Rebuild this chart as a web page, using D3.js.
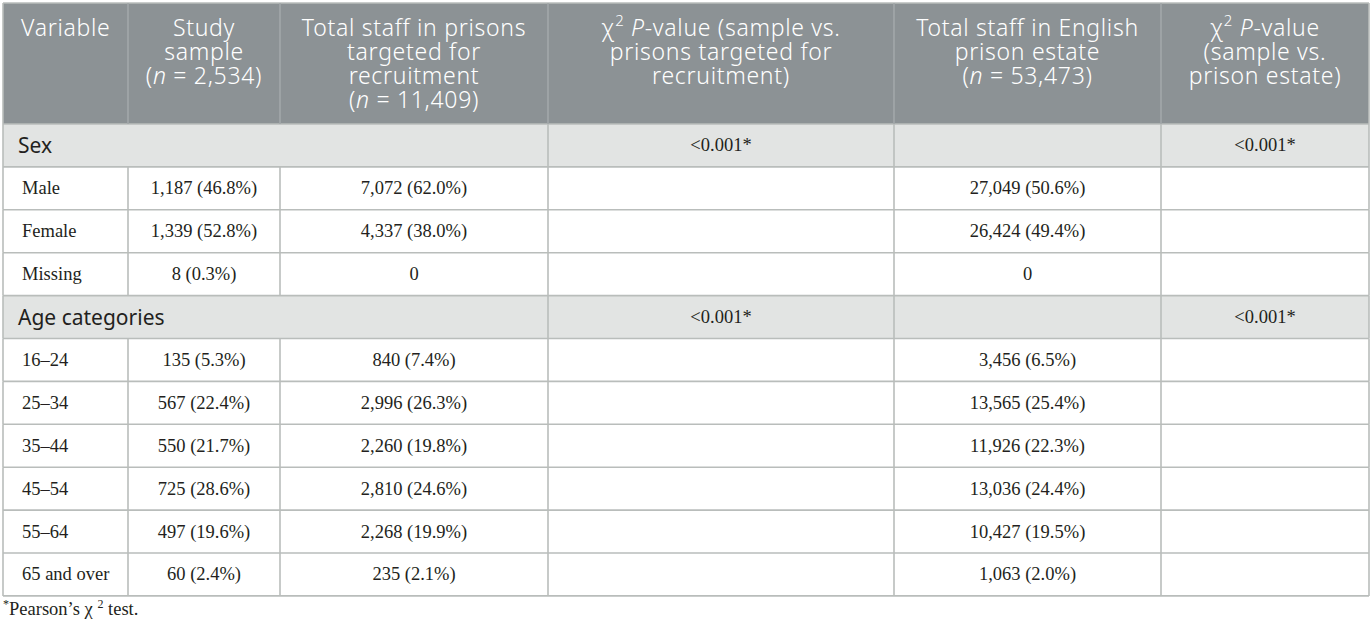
<!DOCTYPE html>
<html>
<head>
<meta charset="utf-8">
<script src="https://cdn.jsdelivr.net/npm/d3@7"></script>
<style>
  html, body { margin: 0; padding: 0; background: #fff; }
  svg { display: block; }
</style>
</head>
<body>
<svg id="table" width="1372" height="629"></svg>
<script>
// column headers, one string per line; <i> and <sup> are honoured
const headers = [
  ["Variable"],
  ["Study", "sample", "(<i>n</i> = 2,534)"],
  ["Total staff in prisons", "targeted for", "recruitment", "(<i>n</i> = 11,409)"],
  ["χ<sup>2</sup> <i>P</i>-value (sample vs.", "prisons targeted for", "recruitment)"],
  ["Total staff in English", "prison estate", "(<i>n</i> = 53,473)"],
  ["χ<sup>2</sup> <i>P</i>-value", "(sample vs.", "prison estate)"]
];

const sections = ["Sex", "Age categories"];
const sectionPTargeted = ["<0.001*", "<0.001*"];
const sectionPEstate = ["<0.001*", "<0.001*"];

const sexLabels = ["Male", "Female", "Missing"];
const sexSampleN = [1187, 1339, 8];
const sexSamplePct = [46.8, 52.8, 0.3];
const sexTargetedN = [7072, 4337, 0];
const sexTargetedPct = [62.0, 38.0, null];
const sexEstateN = [27049, 26424, 0];
const sexEstatePct = [50.6, 49.4, null];

const ageLabels = ["16–24", "25–34", "35–44", "45–54", "55–64", "65 and over"];
const ageSampleN = [135, 567, 550, 725, 497, 60];
const ageSamplePct = [5.3, 22.4, 21.7, 28.6, 19.6, 2.4];
const ageTargetedN = [840, 2996, 2260, 2810, 2268, 235];
const ageTargetedPct = [7.4, 26.3, 19.8, 24.6, 19.9, 2.1];
const ageEstateN = [3456, 13565, 11926, 13036, 10427, 1063];
const ageEstatePct = [6.5, 25.4, 22.3, 24.4, 19.5, 2.0];

const footnote = "<sup>*</sup>Pearson’s χ <sup>2</sup> test.";

// ---- layout
const colEdges = [3, 128, 280, 548, 894, 1161, 1369];
const tableTop = 3, headH = 121, rowH = 42.9;
const serif = "'Liberation Serif', 'Times New Roman', serif";
const sans = "'Noto Sans', 'Open Sans', sans-serif";
const borderCol = "#b9bdbb";

const fmtN = d3.format(",");
const fmtPct = d3.format(".1f");
const cellText = (n, p) => p == null ? fmtN(n) : `${fmtN(n)} (${fmtPct(p)}%)`;

// flatten into table rows
const rows = [];
function addGroup(si, labels, sN, sP, tN, tP, eN, eP) {
  rows.push({ type: "section", label: sections[si], p1: sectionPTargeted[si], p2: sectionPEstate[si] });
  labels.forEach((l, i) => rows.push({
    type: "data",
    cells: [l, cellText(sN[i], sP[i]), cellText(tN[i], tP[i]), "", cellText(eN[i], eP[i]), ""]
  }));
}
addGroup(0, sexLabels, sexSampleN, sexSamplePct, sexTargetedN, sexTargetedPct, sexEstateN, sexEstatePct);
addGroup(1, ageLabels, ageSampleN, ageSamplePct, ageTargetedN, ageTargetedPct, ageEstateN, ageEstatePct);

const y = d3.scaleBand()
  .domain(d3.range(rows.length))
  .range([tableTop + headH, tableTop + headH + rowH * rows.length])
  .paddingInner(0).paddingOuter(0);
const bottom = tableTop + headH + rowH * rows.length;

const svg = d3.select("svg#table");

// write a markup string into a text element as tspans
function richText(sel, str) {
  const parts = str.split(/(<i>.*?<\/i>|<sup>.*?<\/sup>)/).filter(s => s.length);
  parts.forEach(p => {
    if (p.startsWith("<i>")) {
      sel.append("tspan").attr("font-style", "italic").text(p.slice(3, -4));
    } else if (p.startsWith("<sup>")) {
      sel.append("tspan").attr("font-size", "0.65em").attr("baseline-shift", "super").text(p.slice(5, -6));
    } else {
      sel.append("tspan").text(p);
    }
  });
}

// header background
svg.append("rect")
   .attr("x", colEdges[0]).attr("y", tableTop)
   .attr("width", colEdges[6] - colEdges[0]).attr("height", headH)
   .attr("fill", "#8c9295");

// section row backgrounds
rows.forEach((r, i) => {
  if (r.type !== "section") return;
  svg.append("rect")
     .attr("x", colEdges[0]).attr("y", y(i))
     .attr("width", colEdges[6] - colEdges[0]).attr("height", y.bandwidth())
     .attr("fill", "#e2e4e3");
});

// horizontal lines
const gLines = svg.append("g").attr("stroke", borderCol).attr("stroke-width", 1.6);
gLines.selectAll(".hline")
      .data(d3.range(rows.length + 1))
      .enter().append("line")
              .attr("x1", colEdges[0]).attr("x2", colEdges[6])
              .attr("y1", i => i === rows.length ? bottom : y(i))
              .attr("y2", i => i === rows.length ? bottom : y(i));
gLines.append("line")
      .attr("x1", colEdges[0]).attr("x2", colEdges[6])
      .attr("y1", tableTop).attr("y2", tableTop);

// vertical lines: header full height, body split around merged section cells
colEdges.forEach((x, c) => {
  gLines.append("line")
        .attr("x1", x).attr("x2", x)
        .attr("y1", tableTop).attr("y2", tableTop + headH)
        .attr("stroke", c === 0 || c === 6 ? borderCol : "#a3a8aa");
  rows.forEach((r, i) => {
    if (r.type === "section" && (c === 1 || c === 2)) return;
    gLines.append("line")
          .attr("x1", x).attr("x2", x)
          .attr("y1", y(i)).attr("y2", y(i) + y.bandwidth());
  });
});

// header text
const gHead = svg.append("g")
                 .attr("font-family", sans)
                 .attr("font-weight", 300)
                 .attr("font-size", 23)
                 .attr("letter-spacing", 0.7)
                 .attr("fill", "#ffffff");
headers.forEach((lines, c) => {
  const cx = c === 0 ? colEdges[0] + 18 : (colEdges[c] + colEdges[c + 1]) / 2;
  lines.forEach((ln, k) => {
    const t = gHead.append("text")
                   .attr("x", cx)
                   .attr("y", tableTop + 33 + k * 24)
                   .attr("text-anchor", c === 0 ? "start" : "middle");
    richText(t, ln);
  });
});

// body text
const gBody = svg.append("g").attr("fill", "#231f20");
rows.forEach((r, i) => {
  const cy = y(i) + y.bandwidth() / 2;
  if (r.type === "section") {
    gBody.append("text")
         .attr("x", colEdges[0] + 15).attr("y", cy)
         .attr("dominant-baseline", "central")
         .attr("font-family", sans).attr("font-size", 21)
         .text(r.label);
    [[3, r.p1], [5, r.p2]].forEach(([c, v]) => {
      gBody.append("text")
           .attr("x", (colEdges[c] + colEdges[c + 1]) / 2).attr("y", cy)
           .attr("dominant-baseline", "central")
           .attr("text-anchor", "middle")
           .attr("font-family", serif).attr("font-size", 18.5)
           .text(v);
    });
  } else {
    r.cells.forEach((v, c) => {
      if (!v) return;
      gBody.append("text")
           .attr("x", c === 0 ? colEdges[0] + 19 : (colEdges[c] + colEdges[c + 1]) / 2)
           .attr("y", cy)
           .attr("dominant-baseline", "central")
           .attr("text-anchor", c === 0 ? "start" : "middle")
           .attr("font-family", serif).attr("font-size", 18.5)
           .text(v);
    });
  }
});

// footnote
const fn = svg.append("text")
              .attr("x", colEdges[0])
              .attr("y", bottom + 19)
              .attr("font-family", serif)
              .attr("font-size", 18.5)
              .attr("fill", "#231f20");
richText(fn, footnote);
</script>
</body>
</html>
